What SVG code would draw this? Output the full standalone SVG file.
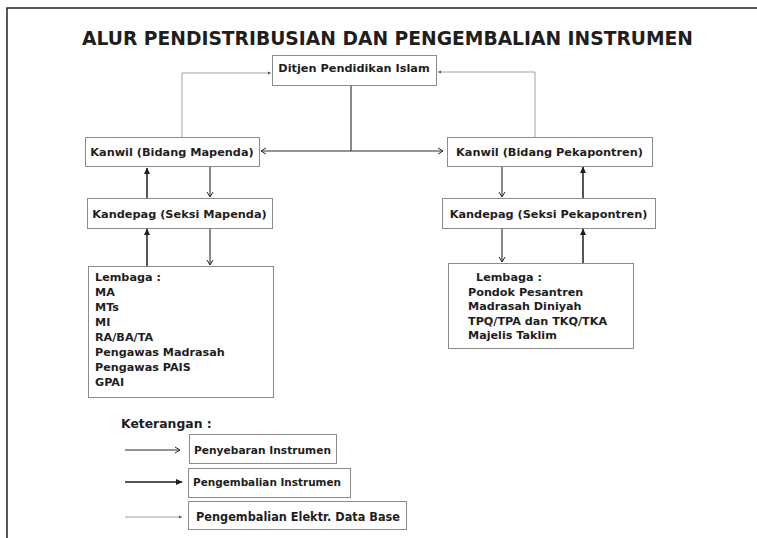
<svg xmlns="http://www.w3.org/2000/svg" width="757" height="538" viewBox="0 0 757 538">
<defs>
<style>
text{font-family:"DejaVu Sans","Verdana",sans-serif;font-weight:bold;fill:#1e1e1e}
.box{fill:#fff;stroke:#8c8c8c;stroke-width:1}
.nt{font-size:11.3px;text-anchor:middle}
.lt{font-size:11.2px}
.spread{stroke:#2a2a2a;stroke-width:1.1;fill:none;marker-end:url(#open)}
.ret{stroke:#1e1e1e;stroke-width:1.5;fill:none;marker-end:url(#filled)}
.elk{stroke:#8a8a8a;stroke-width:0.8;fill:none;marker-end:url(#tiny)}
</style>
<marker id="open" markerUnits="userSpaceOnUse" markerWidth="8" markerHeight="8" refX="5.5" refY="3.5" orient="auto-start-reverse" overflow="visible">
<path d="M0.5,0.5 L5.5,3.5 L0.5,6.5" fill="none" stroke="#2a2a2a" stroke-width="1"/>
</marker>
<marker id="filled" markerUnits="userSpaceOnUse" markerWidth="8" markerHeight="8" refX="6" refY="3.5" orient="auto" overflow="visible">
<path d="M0,0.5 L6.5,3.5 L0,6.5 z" fill="#1e1e1e"/>
</marker>
<marker id="tiny" markerUnits="userSpaceOnUse" markerWidth="4" markerHeight="4" refX="3" refY="1.5" orient="auto" overflow="visible">
<path d="M0,0 L3,1.5 L0,3 z" fill="#555"/>
</marker>
</defs>
<rect width="757" height="538" fill="#fff"/>
<path d="M7,538 V8 H757" fill="none" stroke="#222" stroke-width="1.5"/>
<text x="387.5" y="45" font-size="20" text-anchor="middle" textLength="611" lengthAdjust="spacingAndGlyphs">ALUR PENDISTRIBUSIAN DAN PENGEMBALIAN INSTRUMEN</text>

<g id="connectors">
<line x1="351" y1="85" x2="351" y2="151" stroke="#2a2a2a" stroke-width="1.1"/>
<line x1="261" y1="151" x2="443" y2="151" stroke="#2a2a2a" stroke-width="1.1" marker-start="url(#open)" marker-end="url(#open)"/>
<line class="spread" x1="210" y1="167" x2="210" y2="197"/>
<line class="ret" x1="147" y1="198" x2="147" y2="168"/>
<line class="spread" x1="210" y1="228" x2="210" y2="265"/>
<line class="ret" x1="147" y1="266" x2="147" y2="229"/>
<line class="spread" x1="502" y1="166" x2="502" y2="197"/>
<line class="ret" x1="583" y1="198" x2="583" y2="167"/>
<line class="spread" x1="502" y1="228" x2="502" y2="262"/>
<line class="ret" x1="583" y1="263" x2="583" y2="229"/>
<polyline class="elk" points="182,137 182,73 271,73"/>
<polyline class="elk" points="535,137 535,72 438,72"/>
<line class="spread" x1="125" y1="450" x2="180" y2="450"/>
<line class="ret" x1="125" y1="482" x2="182" y2="482"/>
<line class="elk" x1="125" y1="517" x2="182" y2="517"/>
</g>

<g id="ditjen">
<rect class="box" x="272.5" y="55.5" width="164" height="30"/>
<text class="nt" x="354" y="71.5">Ditjen Pendidikan Islam</text>
</g>
<g id="kanwil-mapenda">
<rect class="box" x="85.5" y="137.5" width="174" height="29"/>
<text class="nt" x="172" y="156">Kanwil (Bidang Mapenda)</text>
</g>
<g id="kanwil-pekapontren">
<rect class="box" x="447.5" y="137.5" width="205" height="29"/>
<text class="nt" x="549.5" y="156">Kanwil (Bidang Pekapontren)</text>
</g>
<g id="kandepag-mapenda">
<rect class="box" x="87.5" y="198.5" width="185" height="30"/>
<text class="nt" x="179.5" y="217.5">Kandepag (Seksi Mapenda)</text>
</g>
<g id="kandepag-pekapontren">
<rect class="box" x="442.5" y="198.5" width="213" height="30"/>
<text class="nt" x="548.5" y="217.5">Kandepag (Seksi Pekapontren)</text>
</g>
<g id="lembaga-mapenda">
<rect class="box" x="88.5" y="266.5" width="185" height="131"/>
<text class="lt" x="95" y="280.5">Lembaga :</text>
<text class="lt" x="95" y="295.5">MA</text>
<text class="lt" x="95" y="310.5">MTs</text>
<text class="lt" x="95" y="325.5">MI</text>
<text class="lt" x="95" y="340.5">RA/BA/TA</text>
<text class="lt" x="95" y="355.5">Pengawas Madrasah</text>
<text class="lt" x="95" y="370.5">Pengawas PAIS</text>
<text class="lt" x="95" y="385.5">GPAI</text>
</g>
<g id="lembaga-pekapontren">
<rect class="box" x="448.5" y="263.5" width="185" height="85"/>
<text class="lt" x="476" y="281">Lembaga :</text>
<text class="lt" x="468" y="295.5">Pondok Pesantren</text>
<text class="lt" x="468" y="310">Madrasah Diniyah</text>
<text class="lt" x="468" y="324.5">TPQ/TPA dan TKQ/TKA</text>
<text class="lt" x="468" y="339">Majelis Taklim</text>
</g>

<g id="legend">
<text x="121" y="427.5" font-size="12.4">Keterangan :</text>
<rect class="box" x="189.5" y="434.5" width="147" height="29"/>
<text x="194" y="454" font-size="11" textLength="137" lengthAdjust="spacingAndGlyphs">Penyebaran Instrumen</text>
<rect class="box" x="188.5" y="468.5" width="162" height="29"/>
<text x="193" y="486" font-size="11" textLength="148" lengthAdjust="spacingAndGlyphs">Pengembalian Instrumen</text>
<rect class="box" x="188.5" y="501.5" width="218" height="28"/>
<text x="196" y="521" font-size="11.5" textLength="204" lengthAdjust="spacingAndGlyphs">Pengembalian Elektr. Data Base</text>
</g>
</svg>
